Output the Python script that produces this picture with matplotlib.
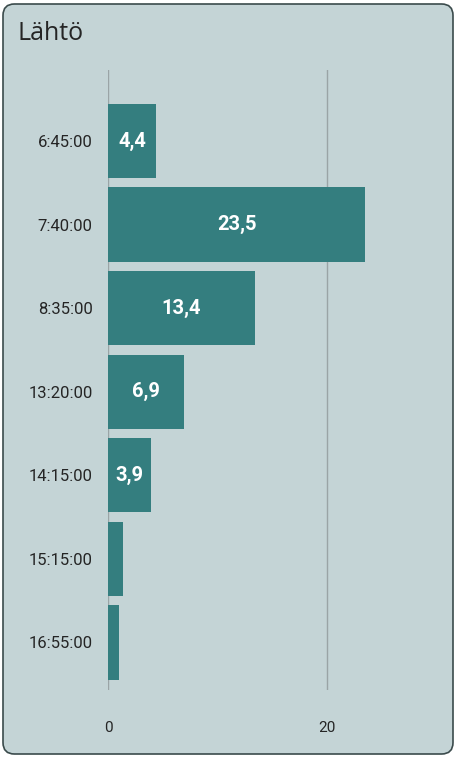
import matplotlib.pyplot as plt
from matplotlib.patches import FancyBboxPatch

# -----------------------------
# Data
# -----------------------------
departures = ["6:45:00", "7:40:00", "8:35:00", "13:20:00", "14:15:00", "15:15:00", "16:55:00"]
values = [4.4, 23.5, 13.4, 6.9, 3.9, 1.4, 1.0]
x_ticks = [0, 20]

bg = "#c4d4d6"
bar_color = "#347e7f"

fig = plt.figure(figsize=(4.56, 7.58), dpi=100)
fig.patch.set_facecolor("white")

# card background
card = FancyBboxPatch((3 / 456, 4 / 758), 450 / 456, 750 / 758,
                      boxstyle="round,pad=0,rounding_size=0.025",
                      transform=fig.transFigure, facecolor=bg,
                      edgecolor="#3b4b4c", linewidth=1.2, mutation_aspect=456 / 758,
                      zorder=-5)
fig.patches.append(card)

fig.text(18 / 456, 1 - 33 / 758, "Lähtö", fontsize=18, family="Open Sans",
         color="#252525", va="center", ha="left")

ax = fig.add_axes([108 / 456, 68 / 758, 292 / 456, 620 / 758])
ax.set_facecolor("none")
ax.set_zorder(2)

y = list(range(len(departures)))
bars = ax.barh(y, values, height=0.89, color=bar_color, zorder=3)

for yi, v in zip(y, values):
    if v >= 3:
        ax.text(v / 2, yi, f"{v:.1f}".replace(".", ","), ha="center", va="center",
                color="white", fontsize=14.5, fontweight="bold", family="Roboto", zorder=4)

ax.set_ylim(6.57, -0.85)
ax.set_xlim(0, 292 / 10.95)
ax.set_yticks(y)
ax.set_yticklabels(departures, fontsize=12, family="Roboto", color="#252525")
ax.set_xticks(x_ticks)
ax.set_xticklabels([str(t) for t in x_ticks], fontsize=11, family="Roboto", color="#252525")
ax.tick_params(length=0)
ax.tick_params(axis="y", pad=11)
ax.tick_params(axis="x", pad=22)
ax.grid(axis="x", color="#9aa4a6", linewidth=1, zorder=0)
for s in ax.spines.values():
    s.set_visible(False)

fig.savefig("out.png", dpi=100)
